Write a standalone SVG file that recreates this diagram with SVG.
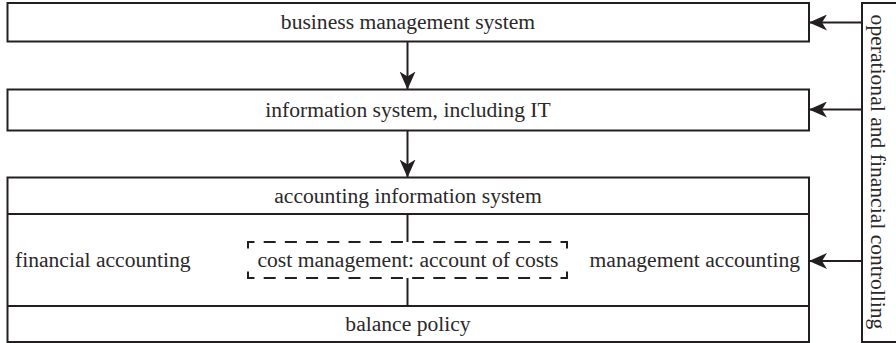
<svg xmlns="http://www.w3.org/2000/svg" width="896" height="343" viewBox="0 0 896 343">
  <style>
    .box { fill: #ffffff; stroke: #231f20; stroke-width: 2; }
    .div { fill: none; stroke: #231f20; stroke-width: 2; }
    .lbl { font-family: "Liberation Serif", "Times New Roman", serif; font-size: 21.6px; fill: #2b2829; }
    .mid { text-anchor: middle; }
    .conn { fill: none; stroke: #231f20; stroke-width: 2; }
    .dash { fill: none; stroke: #231f20; stroke-width: 2; }
  </style>
  <defs>
    <marker id="arrow" viewBox="0 0 18 16" refX="18" refY="8" markerWidth="18" markerHeight="16" markerUnits="userSpaceOnUse" orient="auto">
      <path d="M18,8 L0,0 L5,8 L0,16 Z" fill="#231f20"/>
    </marker>
  </defs>

  <rect width="896" height="343" fill="#ffffff"/>

  <!-- top level: business management -->
  <g id="business-management">
    <rect class="box" x="7.5" y="3" width="801.5" height="38.5"/>
    <text class="lbl mid" x="408" y="29">business management system</text>
  </g>

  <!-- information system -->
  <g id="information-system">
    <rect class="box" x="7.5" y="89.5" width="801.5" height="41"/>
    <text class="lbl mid" x="408" y="117">information system, including IT</text>
  </g>

  <!-- accounting information system with its sub-areas -->
  <g id="accounting-information-system">
    <rect class="box" x="7.5" y="177.5" width="801.5" height="164.5"/>
    <text class="lbl mid" x="408" y="203">accounting information system</text>
    <line class="div" x1="7.5" y1="214" x2="809" y2="214"/>
    <line class="div" x1="7.5" y1="306" x2="809" y2="306"/>
  </g>

  <g id="financial-accounting">
    <text class="lbl" x="15" y="267">financial accounting</text>
  </g>

  <g id="management-accounting">
    <text class="lbl" x="800" y="267" text-anchor="end">management accounting</text>
  </g>

  <g id="cost-management">
    <g class="dash">
      <line x1="248" y1="242" x2="567" y2="242" stroke-dasharray="12 9.2" stroke-dashoffset="5.5"/>
      <line x1="248" y1="278" x2="567" y2="278" stroke-dasharray="12 9.2" stroke-dashoffset="5.5"/>
      <line x1="248" y1="241" x2="248" y2="279" stroke-dasharray="7.5 23"/>
      <line x1="567" y1="241" x2="567" y2="279" stroke-dasharray="7.5 23"/>
    </g>
    <text class="lbl mid" x="408" y="267">cost management: account of costs</text>
  </g>

  <g id="balance-policy">
    <text class="lbl mid" x="408" y="331">balance policy</text>
  </g>

  <!-- side bar: controlling -->
  <g id="controlling">
    <rect class="box" x="862" y="3" width="40" height="339"/>
    <text class="lbl mid" transform="translate(871,172) rotate(90)" x="0" y="0">operational and financial controlling</text>
  </g>

  <!-- connectors -->
  <g id="connectors">
    <line class="conn" x1="407.5" y1="41.5" x2="407.5" y2="89.5" marker-end="url(#arrow)"/>
    <line class="conn" x1="407.5" y1="130.5" x2="407.5" y2="177.5" marker-end="url(#arrow)"/>
    <line class="conn" x1="407.5" y1="214" x2="407.5" y2="242"/>
    <line class="conn" x1="407.5" y1="278" x2="407.5" y2="306"/>
    <line class="conn" x1="862" y1="22.5" x2="809" y2="22.5" marker-end="url(#arrow)"/>
    <line class="conn" x1="862" y1="109.5" x2="809" y2="109.5" marker-end="url(#arrow)"/>
    <line class="conn" x1="862" y1="261" x2="809" y2="261" marker-end="url(#arrow)"/>
  </g>
</svg>
